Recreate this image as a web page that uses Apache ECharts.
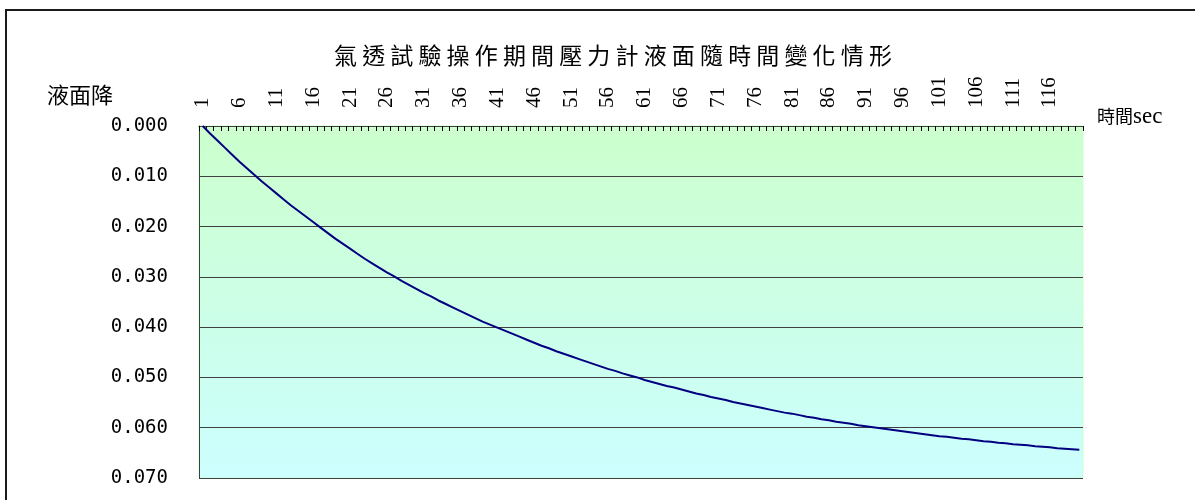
<!DOCTYPE html>
<html>
<head>
<meta charset="utf-8">
<title>氣透試驗操作期間壓力計液面隨時間變化情形</title>
<script src="https://cdn.jsdelivr.net/npm/echarts@6/dist/echarts.min.js"></script>
<style>
  html, body { margin: 0; padding: 0; background: #fff; }
  #chart { width: 1195px; height: 500px; }
</style>
</head>
<body>
<div id="chart"></div>
<script>
// Elapsed time (s) for each reading
const seconds = [
  1, 2, 3, 4, 5, 6, 7, 8, 9, 10, 11, 12, 13, 14, 15, 16, 17, 18, 19, 20,
  21, 22, 23, 24, 25, 26, 27, 28, 29, 30, 31, 32, 33, 34, 35, 36, 37, 38, 39, 40,
  41, 42, 43, 44, 45, 46, 47, 48, 49, 50, 51, 52, 53, 54, 55, 56, 57, 58, 59, 60,
  61, 62, 63, 64, 65, 66, 67, 68, 69, 70, 71, 72, 73, 74, 75, 76, 77, 78, 79, 80,
  81, 82, 83, 84, 85, 86, 87, 88, 89, 90, 91, 92, 93, 94, 95, 96, 97, 98, 99, 100,
  101, 102, 103, 104, 105, 106, 107, 108, 109, 110, 111, 112, 113, 114, 115, 116, 117, 118, 119, 120
];

// Manometer level drop at each reading
const levelDrop = [
  0.0000, 0.0015, 0.0029, 0.0043, 0.0057, 0.0071, 0.0084, 0.0097, 0.0110, 0.0122,
  0.0134, 0.0146, 0.0158, 0.0169, 0.0180, 0.0191, 0.0202, 0.0213, 0.0224, 0.0234,
  0.0244, 0.0254, 0.0264, 0.0273, 0.0282, 0.0291, 0.0299, 0.0308, 0.0316, 0.0324,
  0.0332, 0.0339, 0.0347, 0.0354, 0.0361, 0.0368, 0.0375, 0.0382, 0.0389, 0.0395,
  0.0401, 0.0407, 0.0413, 0.0419, 0.0425, 0.0431, 0.0437, 0.0442, 0.0448, 0.0453,
  0.0458, 0.0463, 0.0468, 0.0473, 0.0478, 0.0483, 0.0487, 0.0492, 0.0496, 0.0500,
  0.0505, 0.0509, 0.0513, 0.0517, 0.0520, 0.0524, 0.0528, 0.0532, 0.0535, 0.0539,
  0.0542, 0.0545, 0.0549, 0.0552, 0.0555, 0.0558, 0.0561, 0.0564, 0.0567, 0.0570,
  0.0572, 0.0575, 0.0578, 0.0580, 0.0583, 0.0585, 0.0588, 0.0590, 0.0592, 0.0595,
  0.0597, 0.0599, 0.0601, 0.0603, 0.0605, 0.0607, 0.0609, 0.0611, 0.0613, 0.0615,
  0.0617, 0.0618, 0.0620, 0.0622, 0.0623, 0.0625, 0.0627, 0.0628, 0.0630, 0.0631,
  0.0633, 0.0634, 0.0635, 0.0637, 0.0638, 0.0639, 0.0641, 0.0642, 0.0643, 0.0644
];

// Level axis ticks
const levelTicks = { min: 0, max: 0.07, step: 0.01 };

const titleText = '氣透試驗操作期間壓力計液面隨時間變化情形';
const yName = '液面降';

const chart = echarts.init(document.getElementById('chart'), null, { renderer: 'canvas' });

const serif = "'Liberation Serif', 'Noto Sans CJK TC'";

chart.setOption({
  backgroundColor: '#ffffff',
  animation: false,
  title: {
    // characters are set apart with spaces for a wide, airy heading
    text: titleText.split('').join(' '),
    left: 329,
    top: 39,
    textStyle: {
      fontFamily: "'Noto Sans CJK TC'",
      fontSize: 23,
      fontWeight: 'normal',
      color: '#000'
    }
  },
  graphic: [{
    type: 'rect',
    silent: true,
    z: -10,
    shape: { x: 6, y: 10, width: 1210, height: 520 },
    style: { fill: 'none', stroke: '#1a1a1a', lineWidth: 2 }
  }],
  grid: {
    left: 199,
    top: 126,
    right: 112,
    bottom: 22,
    show: true,
    borderWidth: 1,
    borderColor: '#ccffcc',
    backgroundColor: new echarts.graphic.LinearGradient(0, 0, 0, 1, [
      { offset: 0, color: '#ccffcc' },
      { offset: 1, color: '#ccffff' }
    ])
  },
  xAxis: {
    type: 'category',
    position: 'top',
    boundaryGap: true,
    data: seconds,
    name: '{a|時間}{b|sec}',
    nameLocation: 'end',
    nameGap: 14,
    nameTextStyle: {
      align: 'left',
      verticalAlign: 'bottom',
      padding: [0, 0, -2, 0],
      rich: {
        a: { fontFamily: "'Noto Sans CJK TC'", fontSize: 18, color: '#000' },
        b: { fontFamily: "'Liberation Serif'", fontSize: 23, color: '#000' }
      }
    },
    axisLine: { show: true, lineStyle: { color: '#404040', width: 1 } },
    axisTick: {
      show: true,
      inside: true,
      interval: 0,
      length: 5,
      lineStyle: { color: '#000', width: 1 }
    },
    axisLabel: {
      interval: 4,
      rotate: 90,
      margin: 18,
      fontFamily: serif,
      fontSize: 21,
      color: '#000'
    },
    splitLine: { show: false }
  },
  yAxis: {
    type: 'value',
    inverse: true,
    min: levelTicks.min,
    max: levelTicks.max,
    interval: levelTicks.step,
    name: yName,
    nameLocation: 'start',
    nameGap: 31,
    nameTextStyle: {
      fontFamily: "'Noto Sans CJK TC'",
      fontSize: 22,
      color: '#000',
      align: 'right',
      verticalAlign: 'middle',
      padding: [0, 86, 0, 0]
    },
    axisLine: { show: true, lineStyle: { color: '#404040', width: 1 } },
    axisTick: { show: true, inside: true, length: 5, lineStyle: { color: '#404040' } },
    axisLabel: {
      margin: 31,
      fontFamily: "'DejaVu Sans Mono'",
      fontSize: 19,
      color: '#000',
      formatter: v => v.toFixed(3)
    },
    splitLine: { show: true, lineStyle: { color: '#404040', width: 1 } }
  },
  series: [{
    type: 'line',
    data: levelDrop,
    symbol: 'none',
    lineStyle: { color: '#000080', width: 2 },
    z: 5
  }]
});
</script>
</body>
</html>
